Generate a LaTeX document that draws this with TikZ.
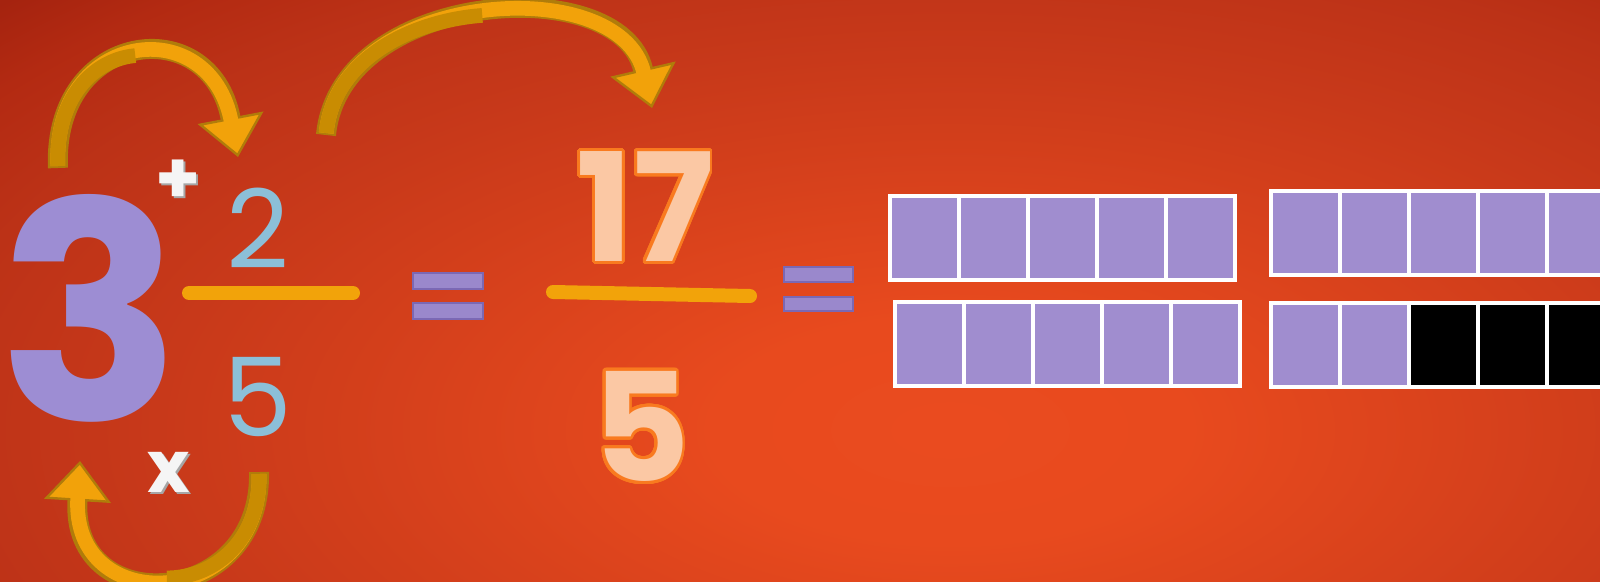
\documentclass[tikz,border=0pt]{standalone}
\usepackage{fontspec}
\setmainfont{Poppins}
\usepackage{contour}
\usetikzlibrary{arrows.meta}
\definecolor{bgmid}{HTML}{EA4B1F}
\definecolor{bgmida}{HTML}{E84A1E}
\definecolor{bgmidb}{HTML}{C8391A}
\definecolor{bgmidc}{HTML}{BC3217}
\definecolor{bgedgeb}{HTML}{B32A12}
\definecolor{bgedge}{HTML}{A5230F}
\definecolor{bgcorner}{HTML}{A0210E}
\definecolor{wholepurple}{HTML}{9D8DD3}
\definecolor{partblue}{HTML}{8CBFD8}
\definecolor{peach}{HTML}{FBC8A4}
\definecolor{peachedge}{HTML}{F97A1F}
\definecolor{barorange}{HTML}{F2A30A}
\definecolor{arrowgold}{HTML}{F2A20A}
\definecolor{arrowdark}{HTML}{C98C02}
\definecolor{arrowedge}{HTML}{B07C0A}
\definecolor{eqpurple}{HTML}{9A88CC}
\definecolor{eqedge}{HTML}{7B68B4}
\definecolor{cellpurple}{HTML}{A08DCF}
\pgfdeclareradialshading{bgglow}{\pgfpoint{0bp}{0bp}}{color(0bp)=(bgmid); color(6bp)=(bgmida); color(20bp)=(bgmidb); color(26bp)=(bgmidc); color(30bp)=(bgedgeb); color(33bp)=(bgedge); color(36bp)=(bgcorner)}
\contourlength{2.2pt}
\contournumber{40}

\begin{document}
\begin{tikzpicture}[x=0.75pt,y=-0.75pt,
  curl/.style={draw=arrowedge,line width=15pt,-{Triangle[length=30pt,width=50pt,fill=arrowgold,line width=1.8pt]}},
  curlfill/.style={draw=arrowgold,line width=11pt,shorten >=27pt,shorten <=1.5pt},
  curlback/.style={draw=arrowdark,line width=11pt,shorten <=1.5pt},
  fracbar/.style={draw=barorange,line width=10.5pt,line cap=round},
  eqbar/.style={fill=eqpurple,draw=eqedge,line width=0.8pt},
  cellrow/.style={fill=cellpurple,draw=white,line width=2.3pt},
  cellline/.style={draw=white,line width=2.3pt},
  sign/.style={inner sep=0pt,text=white!96!black,font=\bfseries\fontsize{54pt}{54pt}\selectfont}]
\useasboundingbox (0,0) rectangle (1600,582);
\begin{scope}
\clip (0,0) rectangle (1600,582);
\shade[shading=bgglow] (-40,-40) rectangle (1940,900);
\end{scope}

\node[inner sep=0pt,text=wholepurple,font=\bfseries\fontsize{227pt}{227pt}\selectfont] (whole) at (90,308) {3};
\node[inner sep=0pt,text=partblue,font=\fontsize{82pt}{82pt}\selectfont] (num) at (258,228) {2};
\node[inner sep=0pt,text=partblue,font=\fontsize{82pt}{82pt}\selectfont] (den) at (258,397) {5};
\node[sign,text=gray!70] at (180,184) {+};
\node[sign] (plus) at (178,182) {+};
\node[sign,text=gray!70] at (171,474) {x};
\node[sign] (times) at (169,472) {x};
\draw[fracbar] (189,293) -- (353,293);

\coordinate (tlTail) at (58,168);
\coordinate (tlTop) at (135.25,55.6);
\coordinate (tlTip) at (238,157);
\draw[curl] (tlTail) .. controls (52,30) and (210,10) .. (tlTip);
\draw[curlfill] (tlTail) .. controls (52,30) and (210,10) .. (tlTip);
\draw[curlback] (tlTail) .. controls (55,99) and (93,59.5) .. (tlTop);
\coordinate (bigTail) at (326,135);
\coordinate (bigTop) at (482.25,15.4);
\coordinate (bigTip) at (652,108);
\draw[curl] (bigTail) .. controls (340,-10) and (620,-30) .. (bigTip);
\draw[curlfill] (bigTail) .. controls (340,-10) and (620,-30) .. (bigTip);
\draw[curlback] (bigTail) .. controls (333,62.5) and (406.5,21.25) .. (bigTop);
\coordinate (lowTail) at (259,472);
\coordinate (lowBottom) at (166.9,577.9);
\coordinate (lowTip) at (80,461);
\draw[curl] (lowTail) .. controls (262,610) and (70,620) .. (lowTip);
\draw[curlfill] (lowTail) .. controls (262,610) and (70,620) .. (lowTip);
\draw[curlback] (lowTail) .. controls (260.5,541) and (213.25,578) .. (lowBottom);

\draw[eqbar] (413,273) rectangle (483,289);
\draw[eqbar] (413,303) rectangle (483,319);

\node[inner sep=0pt,text=peach,font=\bfseries\fontsize{113pt}{113pt}\selectfont] (topsum) at (645,208) {\contour{peachedge}{17}};
\draw[fracbar] (553,292) -- (750,296);
\node[inner sep=0pt,text=peach,font=\bfseries\fontsize{113pt}{113pt}\selectfont] (bottom) at (641,428) {\contour{peachedge}{5}};

\draw[eqbar] (784,267) rectangle (853,282);
\draw[eqbar] (784,297) rectangle (853,311);

\draw[cellrow] (890,196) rectangle (1235,280);
\draw[cellline] (959,196) -- (959,280) (1028,196) -- (1028,280) (1097,196) -- (1097,280) (1166,196) -- (1166,280);
\draw[cellrow] (895,302) rectangle (1240,386);
\draw[cellline] (964,302) -- (964,386) (1033,302) -- (1033,386) (1102,302) -- (1102,386) (1171,302) -- (1171,386);
\draw[cellrow] (1271,191) rectangle (1616,275);
\draw[cellline] (1340,191) -- (1340,275) (1409,191) -- (1409,275) (1478,191) -- (1478,275) (1547,191) -- (1547,275);
\fill[black] (1409,303) rectangle (1616,387);
\draw[cellrow] (1271,303) rectangle (1409,387);
\draw[cellline] (1271,303) rectangle (1616,387);
\draw[cellline] (1340,303) -- (1340,387) (1409,303) -- (1409,387) (1478,303) -- (1478,387) (1547,303) -- (1547,387);
\end{tikzpicture}
\end{document}
